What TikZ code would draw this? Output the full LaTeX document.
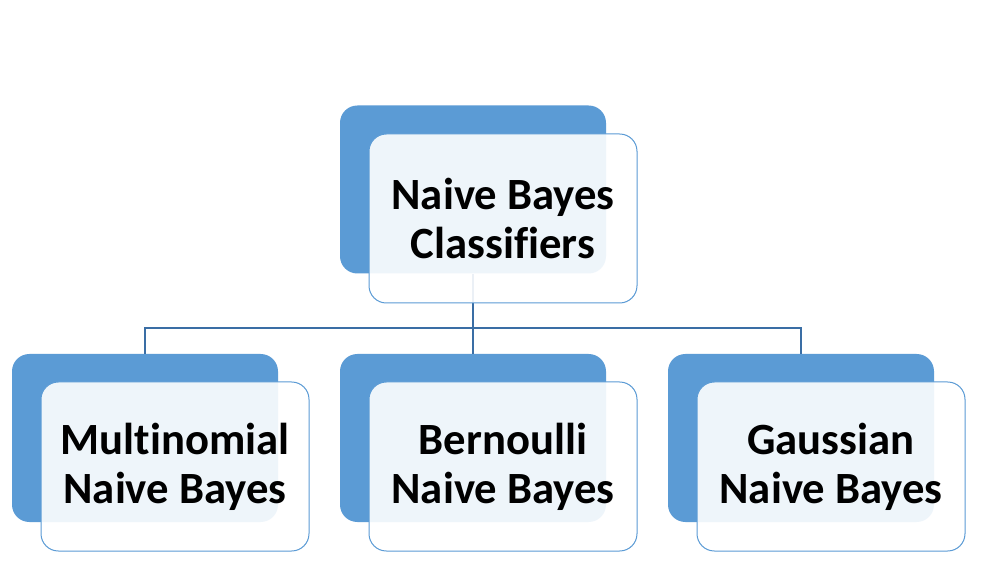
\documentclass[tikz,border=0pt]{standalone}
\usepackage{fontspec}
\setmainfont{Carlito}[Ligatures=NoCommon]
\definecolor{nbblue}{HTML}{5B9BD5}
\definecolor{nbline}{HTML}{3A6EA5}
\tikzset{
  backbox/.style={rounded corners=13pt, fill=nbblue, minimum width=199.5pt, minimum height=126pt, inner sep=0pt},
  frontbox/.style={rounded corners=13pt, draw=nbblue, line width=0.75pt, fill=white, fill opacity=0.9, text opacity=1,
    minimum width=201pt, minimum height=126.75pt, align=center, font=\fontsize{33.5}{36.75}\selectfont\bfseries},
  link/.style={draw=nbline, line width=1pt}
}
\begin{document}
\begin{tikzpicture}[x=0.75pt,y=-0.75pt]
\useasboundingbox[fill=white] (0,0) rectangle (1000,577);
% back boxes
\node[backbox] (cls) at (473,189.5) {};
\node[backbox] (multi) at (145,438) {};
\node[backbox] (bern) at (473,438) {};
\node[backbox] (gauss) at (801,438) {};
% connectors
\coordinate (split) at (473,328);
\draw[link] (cls.south) -- (split) -| (multi.north);
\draw[link] (split) -| (gauss.north);
\draw[link] (split) -- (bern.north);
% front boxes
\node[frontbox] (clsF) at (503,218.5) {Naive Bayes\\Classifiers};
\node[frontbox] (multiF) at (175,466.5) {Multinomial\\Naive Bayes};
\node[frontbox] (bernF) at (503,466.5) {Bernoulli\\Naive Bayes};
\node[frontbox] (gaussF) at (831,466.5) {Gaussian\\Naive Bayes};
\end{tikzpicture}
\end{document}
